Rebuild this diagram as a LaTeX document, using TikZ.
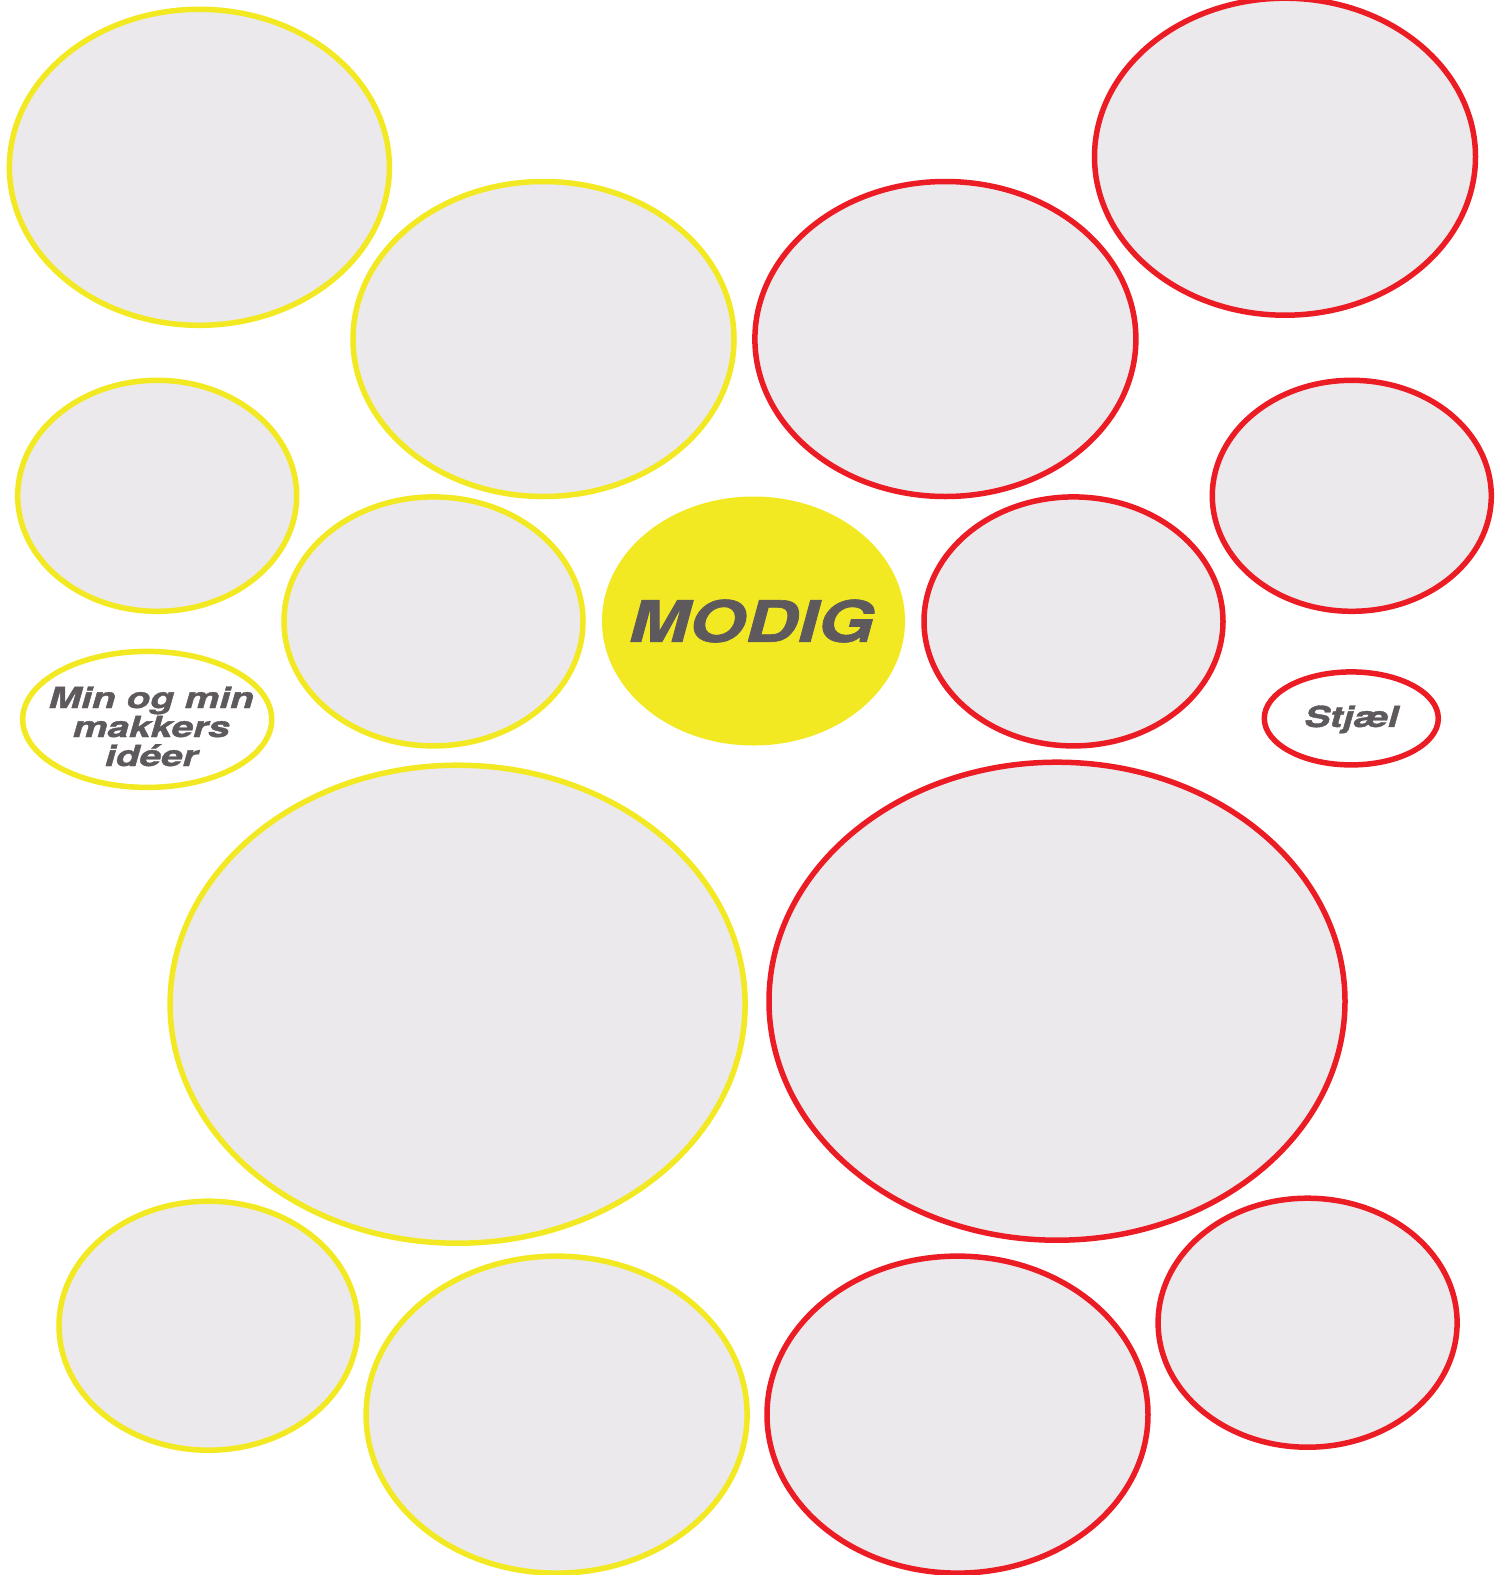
\documentclass[tikz,border=0pt]{standalone}
\usepackage{fontspec}
\setmainfont{TeX Gyre Heros}
\newfontfamily\heavyfont{TeX Gyre Heros}[FakeBold=1.2]
\usetikzlibrary{shapes.geometric}
\definecolor{myyellow}{HTML}{F2E923}
\definecolor{myred}{HTML}{EC1C24}
\definecolor{mygray}{HTML}{EBE9EC}
\definecolor{mytext}{HTML}{5E595D}
\tikzset{
  bub/.style={ellipse, fill=mygray, line width=5.5pt, inner sep=0pt},
  yel/.style={bub, draw=myyellow},
  rd/.style={bub, draw=myred},
  sz/.style 2 args={minimum width=#1pt, minimum height=#2pt},
  lbl/.style={text=mytext, align=center, inner sep=0pt}
}
\begin{document}
\begin{tikzpicture}[x=1pt,y=-1pt]
\useasboundingbox[fill=white] (0,0) rectangle (1507,1575);
% yellow
\node[yel, sz={380}{316}] (y1) at (199.4,167.3) {};
\node[yel, sz={381}{315}] (y2) at (543.5,339) {};
\node[yel, sz={279}{231}] (y3) at (157.2,495.8) {};
\node[yel, sz={299}{249}] (y4) at (433.5,621.4) {};
\node[yel, sz={249}{136}, fill=white] (y5) at (147.2,719.4) {};
\node[yel, sz={575}{478}] (y6) at (457.6,1004.2) {};
\node[yel, sz={299}{249}] (y7) at (208.5,1325.7) {};
\node[yel, sz={381}{317}] (y8) at (556.6,1414.6) {};
% center
\node[ellipse, fill=myyellow, inner sep=0pt, sz={303}{249}] (c) at (753.5,621) {};
\node[lbl, font=\fontsize{57}{57}\heavyfont\bfseries\itshape] (ct) at ([xshift=-2pt]c.center)
      {\scalebox{1.27}[1]{MODIG}};
% red
\node[rd, sz={381}{315}] (r1) at (945.4,339) {};
\node[rd, sz={381}{317}] (r2) at (1285,156.7) {};
\node[rd, sz={279}{231}] (r3) at (1351.8,495.8) {};
\node[rd, sz={299}{249}] (r4) at (1073.5,621.4) {};
\node[rd, sz={174}{93}, fill=white] (r5) at (1351.3,718.4) {};
\node[lbl, font=\fontsize{29}{29}\heavyfont\bfseries\itshape] (t13) at ([yshift=-1pt]r5.center)
      {\scalebox{1.33}[1]{Stjæl}};
\node[rd, sz={576}{478}] (r6) at (1057,1001.2) {};
\node[rd, sz={299}{249}] (r7) at (1307.6,1322.7) {};
\node[rd, sz={381}{317}] (r8) at (957.5,1414.6) {};
% label in small yellow bubble
\node[lbl, font=\fontsize{29}{29}\heavyfont\bfseries\itshape] (t5) at ([xshift=4pt,yshift=-7pt]y5.center)
  {\scalebox{1.34}[1]{Min og min}\\\scalebox{1.34}[1]{makkers}\\\scalebox{1.34}[1]{idéer}};
\end{tikzpicture}
\end{document}
